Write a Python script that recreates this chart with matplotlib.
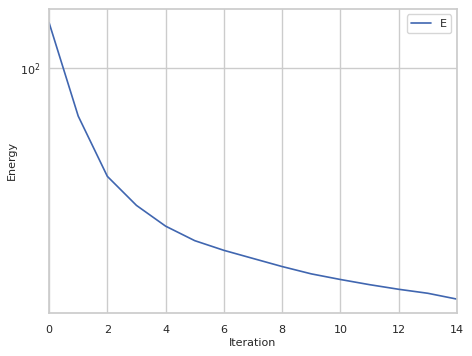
import matplotlib
matplotlib.use('Agg')
import matplotlib.pyplot as plt
import seaborn as sns

iterations = list(range(15))
energy = [148, 65.9, 39.1, 30.4, 25.4, 22.4, 20.6, 19.2, 17.9, 16.8, 16.0, 15.3, 14.7, 14.2, 13.5]

sns.set_theme(style='whitegrid')

fig = plt.figure(figsize=(4.72, 3.56), dpi=100)
ax = fig.add_axes([0.104, 0.121, 0.864, 0.854])
ax.plot(iterations, energy, color='#4066b0', lw=1.2, label='E')
ax.set_yscale('log')
ax.set_xlim(0, 14)
ax.set_xlabel('Iteration', fontsize=8, labelpad=2)
ax.set_ylabel('Energy', fontsize=8, labelpad=2)
ax.tick_params(axis='x', labelsize=8, pad=3)
ax.tick_params(axis='y', labelsize=8, pad=0.5)
ax.legend(loc='upper right', fontsize=8, handlelength=1.8)

fig.savefig('out.png', dpi=100)
